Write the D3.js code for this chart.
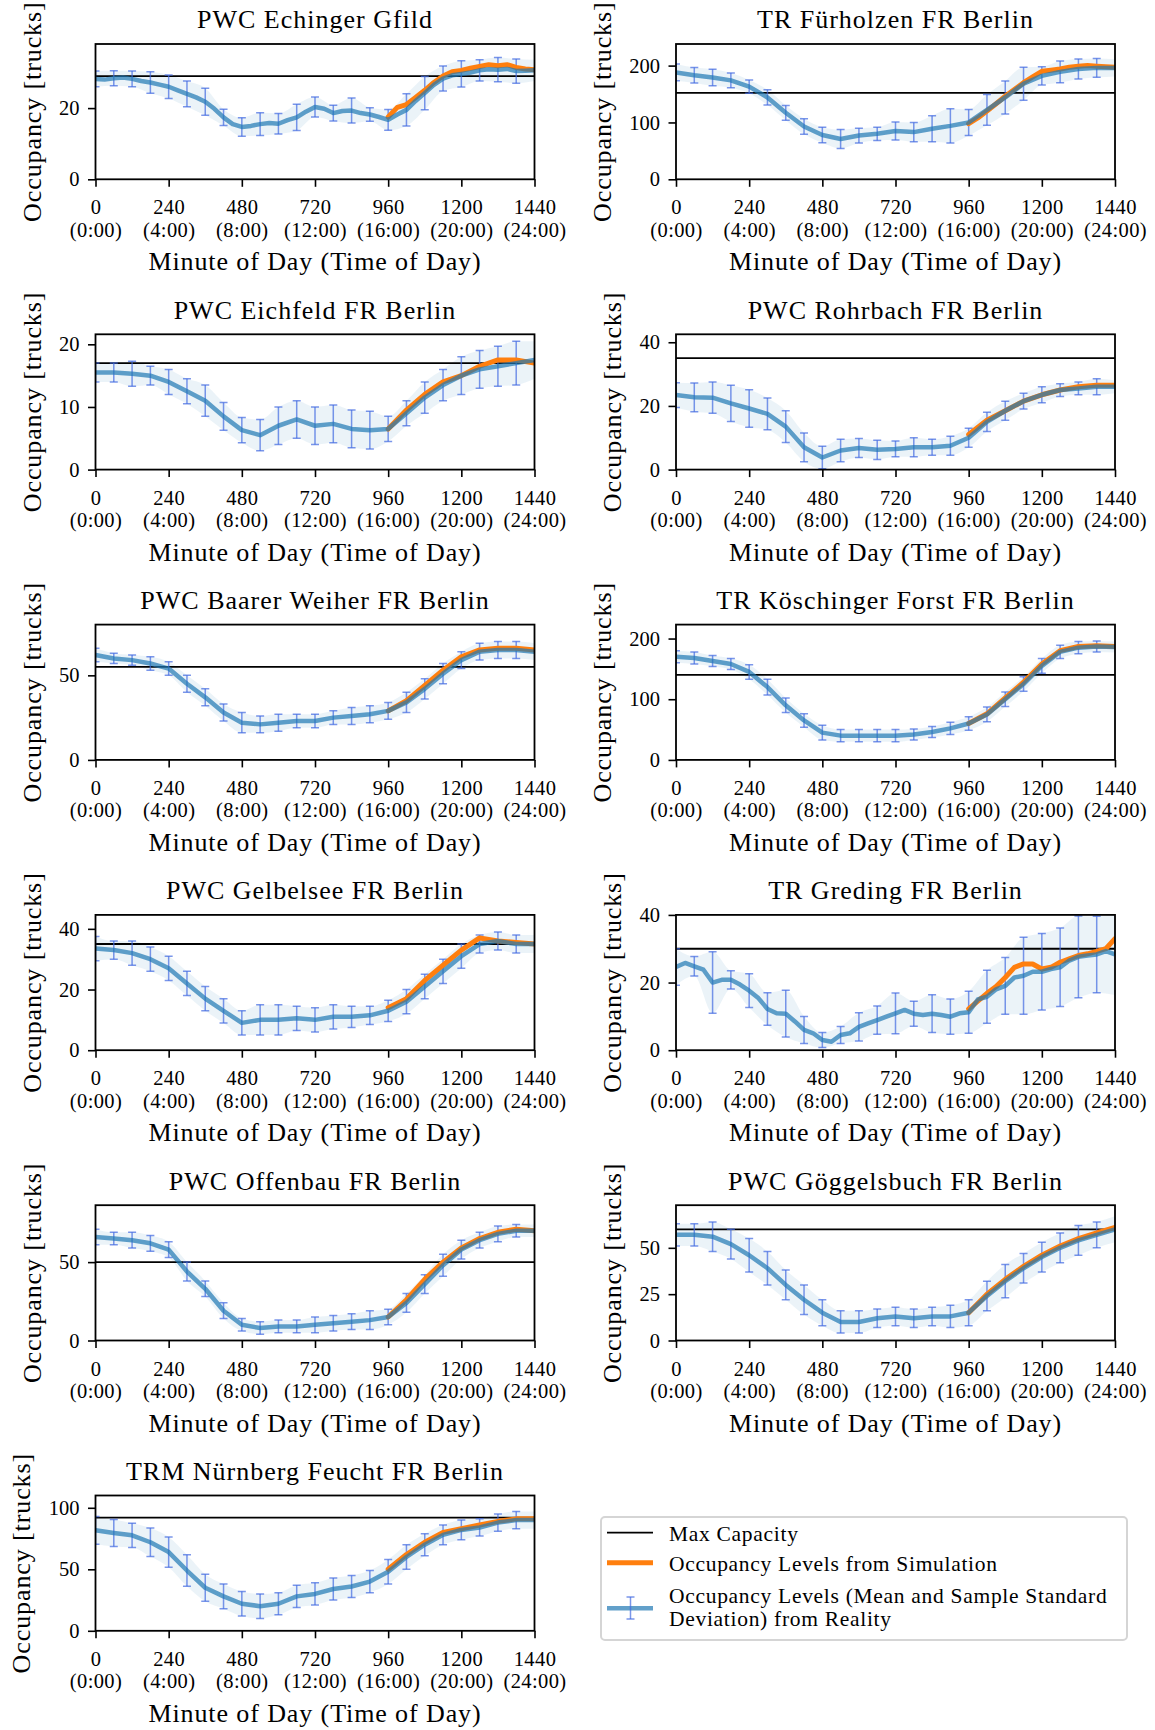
<!DOCTYPE html>
<html>
<head>
<meta charset="utf-8">
<script src="https://cdn.jsdelivr.net/npm/d3@7"></script>
<style>
  html, body { margin: 0; padding: 0; background: #fff; }
  svg { display: block; }
  text { font-family: "Liberation Serif", "DejaVu Serif", serif; fill: #000; }
</style>
</head>
<body>
<svg id="chart" width="1155" height="1730"></svg>
<script>
// ---- Parking areas (one panel each) ----
const stationNames = [
  "PWC Echinger Gfild", "TR Fürholzen FR Berlin",
  "PWC Eichfeld FR Berlin", "PWC Rohrbach FR Berlin",
  "PWC Baarer Weiher FR Berlin", "TR Köschinger Forst FR Berlin",
  "PWC Gelbelsee FR Berlin", "TR Greding FR Berlin",
  "PWC Offenbau FR Berlin", "PWC Göggelsbuch FR Berlin",
  "TRM Nürnberg Feucht FR Berlin"
];
const maxCapacity = [29, 152, 17, 35, 55, 140, 35, 30, 50, 60, 92];
const yAxisTop = [38, 238, 21.6, 42.5, 80, 223, 44.6, 40, 86.3, 73, 110];
const yTickValues = [
  [0, 20], [0, 100, 200], [0, 10, 20], [0, 20, 40], [0, 50], [0, 100, 200],
  [0, 20, 40], [0, 20, 40], [0, 50], [0, 25, 50], [0, 50, 100]
];
const xTickMinutes = [0, 240, 480, 720, 960, 1200, 1440];
const xTickClock = ["(0:00)", "(4:00)", "(8:00)", "(12:00)", "(16:00)", "(20:00)", "(24:00)"];

// ---- Observed mean occupancy (evenly spaced over 0..1440 min) ----
const meanEchinger = [28.2, 28.0, 28.4, 28.6, 28.2, 27.6, 27.2, 26.6, 26.0, 25.0, 24.0, 23.0, 21.8, 19.8, 17.4, 15.5,
  14.7, 15.0, 15.5, 15.8, 15.6, 16.6, 17.4, 19.0, 20.3, 19.8, 18.6, 19.2, 19.3, 18.6, 18.2, 17.5, 16.7, 18.2, 19.5,
  22.0, 24.2, 26.5, 28.3, 29.2, 29.6, 30.0, 30.6, 30.9, 30.8, 31.0, 30.4, 30.5, 30.6];
const meanFurholzen = [188, 183, 179, 174, 163, 144, 117, 93, 78, 71, 77, 80, 85, 83, 89, 94, 100, 122, 144, 168, 182, 189, 194, 196, 196];
const meanEichfeld = [15.5, 15.5, 15.3, 15, 14, 12.5, 11, 8.5, 6.3, 5.5, 7, 8, 7, 7.3, 6.5, 6.3, 6.5, 9, 11.5, 13.5, 15, 16, 16.5, 17, 17.5];
const meanRohrbach = [23.4, 22.7, 22.6, 20.8, 19.2, 17.5, 13.5, 7, 3.8, 6, 6.8, 6.2, 6.5, 7, 7, 7.5, 10, 15, 18.5, 21.5, 23.5, 25, 25.5, 26, 26];
const meanBaarer = [62, 60, 59, 57, 54, 45, 37, 28, 22, 21, 22, 23, 23, 25, 26, 27, 29, 34, 42, 51, 59, 64, 65, 65, 64];
const meanKoschinger = [170, 168, 163, 158, 145, 120, 90, 65, 45, 40, 40, 40, 40, 42, 46, 52, 60, 75, 100, 125, 155, 178, 185, 187, 186];
const meanGelbelsee = [33.5, 33, 32, 30, 27, 22, 17, 13, 9, 10, 10, 10.5, 10, 11, 11, 11.5, 13, 16, 21, 26, 31, 35, 36, 35, 35];
const meanGreding = [24.6, 25.8, 24.8, 23.8, 20.0, 20.8, 20.8, 19.4, 17.6, 15.4, 12.2, 10.9, 10.8, 8.5, 6.0, 5.0,
  3.0, 2.5, 4.5, 5.0, 6.9, 7.9, 8.9, 9.9, 10.9, 11.9, 10.8, 10.4, 10.8, 10.4, 9.9, 10.9, 11.2, 15.0, 15.8, 18.0,
  19.0, 21.5, 22.0, 23.2, 23.2, 24.0, 24.5, 26.5, 27.6, 28.0, 28.3, 29.3, 28.3];
const meanOffenbau = [66, 65, 64, 62, 58, 44, 33, 19, 10, 8, 9, 9, 10, 11, 12, 13, 15, 24, 36, 48, 58, 64, 68, 70, 70];
const meanGoggelsbuch = [57, 57, 56, 52, 46, 39, 30, 22, 15, 10, 10, 12, 13, 12, 13, 13, 15, 24, 32, 39, 45, 50, 54, 57, 60];
const meanNurnberg = [81.7, 79.5, 77.6, 72, 64, 49, 35, 28, 22, 20, 22, 28, 30, 34, 36, 40, 48, 60, 70, 78, 82, 84, 88, 90, 90];

// ---- Sample standard deviation, hourly at 0, 60, ..., 1440 min ----
const stdEchinger = [2.2, 2.1, 2.2, 3.0, 3.3, 3.6, 3.8, 2.3, 2.6, 3.2, 2.9, 3.7, 2.8, 2.2, 3.5, 1.9, 2.9, 4.5, 4.7, 3.5, 3.7, 3.0, 3.4, 3.4, 3.0];
const stdFurholzen = [14.6, 13.5, 14.6, 13, 11.7, 13.5, 13, 13.7, 13.7, 16.7, 13, 11.7, 16, 17, 23, 30, 23, 27, 29, 29, 16, 19, 17.5, 16.7, 15];
const stdEichfeld = [1.5, 1.5, 2, 1.5, 2, 2, 2.5, 2.2, 2, 2.5, 3, 3, 3, 3, 3, 3, 2, 2, 2.5, 2.5, 3, 3, 3.2, 3.5, 3];
const stdRohrbach = [3.9, 4.5, 4.9, 5.7, 5.9, 5, 5, 4.5, 3.5, 3.5, 3, 3, 2.5, 3, 2.5, 3, 3, 3, 3, 2.5, 2.5, 2, 2, 2.5, 2];
const stdBaarer = [4, 3, 3, 4, 4, 5, 5, 5, 6, 5, 5, 4, 4, 4, 5, 5, 5, 6, 6, 6, 5, 5, 5, 5, 5];
const stdKoschinger = [10, 10, 9, 9, 12, 13, 12, 11, 12, 10, 10, 10, 10, 9, 9, 10, 11, 12, 12, 12, 12, 11, 10, 9, 9];
const stdGelbelsee = [4, 3, 4, 4, 4, 4, 4, 4, 4, 5, 5, 4, 4, 4, 3.5, 3, 3.5, 4, 4, 4, 4, 3, 3, 3, 3];
const stdGreding = [5.4, 2.9, 9.1, 2.7, 5, 4.8, 6.9, 4, 2.2, 2.5, 4.2, 4.2, 6, 3.7, 5.6, 5.2, 6.2, 7.8, 8.4, 11.4, 11.3, 11.6, 12.1, 11.3, 12];
const stdOffenbau = [5, 4, 5, 5, 5, 6, 5, 5, 4, 4, 4, 4, 5, 5, 5, 6, 5, 6, 6, 7, 6, 5, 5, 4, 4];
const stdGoggelsbuch = [6, 6, 8, 8, 9, 9, 8, 8, 7, 6, 6, 5, 5, 5, 5, 6, 7, 8, 9, 8, 8, 8, 8, 7, 7];
const stdNurnberg = [11.3, 10.9, 9.8, 11.6, 12.3, 12.8, 11, 10, 10, 10, 9, 9, 9, 9, 9, 9, 10, 10, 9, 8, 8, 7, 7, 7, 7];

// ---- Simulated occupancy, evenly spaced over 960..1440 min ----
const simEchinger = [17.5, 20.2, 21.0, 23.0, 25.0, 27.2, 29.0, 30.2, 30.6, 31.2, 31.7, 32.2, 31.9, 32.2, 31.4, 31.0, 30.8];
const simFurholzen = [98, 108, 120, 133, 146, 158, 170, 180, 190, 192, 194, 197, 199, 200, 199, 198, 197];
const simEichfeld = [6.5, 9.5, 12, 14, 15, 16.5, 17.5, 17.5, 17];
const simRohrbach = [11, 15.5, 18.5, 21.5, 23.5, 25, 26, 26.5, 26.5];
const simBaarer = [29, 35, 44, 53, 61, 65, 66, 66, 65];
const simKoschinger = [60, 76, 102, 128, 158, 180, 187, 188, 187];
const simGelbelsee = [14, 17, 23, 28, 33, 37, 36, 35.5, 35];
const simGreding = [12.2, 14.5, 16.8, 18.8, 21.5, 24.5, 25.5, 25.5, 24, 24.5, 26, 27, 28, 28.5, 29.2, 30, 33];
const simOffenbau = [15, 26, 39, 50, 59, 65, 69, 71, 70];
const simGoggelsbuch = [15, 25, 33, 40, 46, 51, 55, 58, 61];
const simNurnberg = [50, 62, 72, 80, 83, 86, 89, 91, 91];

const meanSeries = [meanEchinger, meanFurholzen, meanEichfeld, meanRohrbach, meanBaarer, meanKoschinger,
  meanGelbelsee, meanGreding, meanOffenbau, meanGoggelsbuch, meanNurnberg];
const stdSeries = [stdEchinger, stdFurholzen, stdEichfeld, stdRohrbach, stdBaarer, stdKoschinger,
  stdGelbelsee, stdGreding, stdOffenbau, stdGoggelsbuch, stdNurnberg];
const simSeries = [simEchinger, simFurholzen, simEichfeld, simRohrbach, simBaarer, simKoschinger,
  simGelbelsee, simGreding, simOffenbau, simGoggelsbuch, simNurnberg];

// ---- Layout ----
const colLeft = [95.5, 676];
const plotW = 439;
const plotH = 135.3;
const rowTop = 44;
const rowStep = 290.3;

const C_REAL = "#1f77b4";
const C_SIM = "#ff7f0e";
const C_ERR = "#4169e1";
const FONT_TICK = 20.5;
const FONT_LABEL = 26;

const svg = d3.select("#chart");
svg.append("rect").attr("width", 1155).attr("height", 1730).attr("fill", "#fff");

// Pair each value with its minute on an even grid.
function onGrid(values, start, end) {
  const n = values.length;
  return values.map((v, i) => ({ t: start + (end - start) * i / (n - 1), v }));
}

stationNames.forEach((name, i) => {
  const col = i % 2, row = Math.floor(i / 2);
  const x0 = colLeft[col], y0 = rowTop + row * rowStep;
  const x = d3.scaleLinear().domain([0, 1440]).range([x0, x0 + plotW]);
  const y = d3.scaleLinear().domain([0, yAxisTop[i]]).range([y0 + plotH, y0]);

  const g = svg.append("g");
  const clipId = "clip" + i;
  g.append("clipPath").attr("id", clipId)
    .append("rect").attr("x", x0).attr("y", y0).attr("width", plotW).attr("height", plotH);

  const plot = g.append("g").attr("clip-path", `url(#${clipId})`);

  const mean = onGrid(meanSeries[i], 0, 1440);
  const sim = onGrid(simSeries[i], 960, 1440);
  const step = (meanSeries[i].length - 1) / 24;
  const hourly = stdSeries[i].map((s, k) => ({ t: k * 60, m: meanSeries[i][k * step], s }));

  // mean ± std band
  plot.append("path")
    .datum(hourly)
    .attr("fill", C_REAL).attr("fill-opacity", 0.09)
    .attr("d", d3.area().curve(d3.curveMonotoneX)
      .x(d => x(d.t)).y0(d => y(d.m - d.s)).y1(d => y(d.m + d.s)));

  // capacity
  plot.append("line")
    .attr("x1", x0).attr("x2", x0 + plotW)
    .attr("y1", y(maxCapacity[i])).attr("y2", y(maxCapacity[i]))
    .attr("stroke", "#000").attr("stroke-width", 1.8);

  // error bars every hour
  const bars = plot.append("g").attr("stroke", C_ERR).attr("stroke-opacity", 0.7).attr("stroke-width", 1.5);
  hourly.filter(d => d.t < 1440).forEach(d => {
    const xx = x(d.t), ya = y(d.m - d.s), yb = y(d.m + d.s);
    bars.append("line").attr("x1", xx).attr("x2", xx).attr("y1", ya).attr("y2", yb);
    bars.append("line").attr("x1", xx - 4).attr("x2", xx + 4).attr("y1", ya).attr("y2", ya);
    bars.append("line").attr("x1", xx - 4).attr("x2", xx + 4).attr("y1", yb).attr("y2", yb);
  });

  // simulation
  plot.append("path").datum(sim)
    .attr("fill", "none").attr("stroke", C_SIM).attr("stroke-width", 5)
    .attr("stroke-linejoin", "round").attr("stroke-linecap", "round")
    .attr("d", d3.line().x(d => x(d.t)).y(d => y(d.v)));

  // observed mean
  plot.append("path").datum(mean)
    .attr("fill", "none").attr("stroke", C_REAL).attr("stroke-opacity", 0.7).attr("stroke-width", 4.5)
    .attr("stroke-linejoin", "round")
    .attr("d", d3.line().x(d => x(d.t)).y(d => y(d.v)));

  // y axis
  const yAxis = g.append("g").attr("transform", `translate(${x0},0)`)
    .call(d3.axisLeft(y).tickValues(yTickValues[i]).tickSize(7.5).tickPadding(8.5).tickFormat(d3.format("d")));
  yAxis.select(".domain").remove();
  yAxis.selectAll(".tick line").attr("stroke", "#000").attr("stroke-width", 1.6);
  yAxis.selectAll(".tick text").attr("font-size", FONT_TICK).attr("font-family", null).attr("fill", "#000");

  // x axis with minute and clock time
  const xAxis = g.append("g").attr("transform", `translate(0,${y0 + plotH})`)
    .call(d3.axisBottom(x).tickValues(xTickMinutes).tickSize(7.5).tickFormat(""));
  xAxis.select(".domain").remove();
  xAxis.selectAll(".tick line").attr("stroke", "#000").attr("stroke-width", 1.6);
  xAxis.selectAll(".tick text").each(function (d, k) {
    const t = d3.select(this).attr("y", null).attr("dy", null)
      .attr("font-size", FONT_TICK).attr("font-family", null).attr("fill", "#000")
      .attr("letter-spacing", 0.4);
    t.append("tspan").attr("x", 0).attr("y", 35).text(d);
    t.append("tspan").attr("x", 0).attr("y", 57.6).text(xTickClock[k]);
  });

  // frame
  g.append("rect").attr("x", x0).attr("y", y0).attr("width", plotW).attr("height", plotH)
    .attr("fill", "none").attr("stroke", "#000").attr("stroke-width", 1.8);

  // title and axis labels
  g.append("text").attr("x", x0 + plotW / 2).attr("y", y0 - 15.6)
    .attr("text-anchor", "middle").attr("font-size", FONT_LABEL).attr("letter-spacing", 1)
    .text(name);
  g.append("text").attr("x", x0 + plotW / 2).attr("y", y0 + plotH + 91)
    .attr("text-anchor", "middle").attr("font-size", FONT_LABEL).attr("letter-spacing", 0.9)
    .text("Minute of Day (Time of Day)");

  let tickLeft = x0;
  yAxis.selectAll(".tick text").each(function () {
    const b = this.getBBox();
    const ctm = this.getCTM();
    tickLeft = Math.min(tickLeft, b.x + ctm.e);
  });
  const lx = tickLeft - 8 - 10.5;
  g.append("text")
    .attr("transform", `translate(${lx},${y0 + plotH / 2}) rotate(-90)`)
    .attr("text-anchor", "middle").attr("font-size", FONT_LABEL).attr("letter-spacing", 0.9)
    .text("Occupancy [trucks]");
});

// ---- Legend ----
const lg = svg.append("g");
lg.append("rect").attr("x", 601).attr("y", 1517).attr("width", 526).attr("height", 123)
  .attr("rx", 4).attr("fill", "#fff").attr("stroke", "#d5d5d5").attr("stroke-width", 2);
lg.append("line").attr("x1", 607).attr("x2", 653).attr("y1", 1532.7).attr("y2", 1532.7)
  .attr("stroke", "#000").attr("stroke-width", 1.8);
lg.append("line").attr("x1", 607).attr("x2", 653).attr("y1", 1562.7).attr("y2", 1562.7)
  .attr("stroke", C_SIM).attr("stroke-width", 5);
lg.append("line").attr("x1", 607).attr("x2", 653).attr("y1", 1608.3).attr("y2", 1608.3)
  .attr("stroke", C_REAL).attr("stroke-opacity", 0.7).attr("stroke-width", 4.5);
const lgErr = lg.append("g").attr("stroke", C_ERR).attr("stroke-opacity", 0.7).attr("stroke-width", 1.5);
lgErr.append("line").attr("x1", 630.5).attr("x2", 630.5).attr("y1", 1597).attr("y2", 1619);
lgErr.append("line").attr("x1", 626.5).attr("x2", 634.5).attr("y1", 1597).attr("y2", 1597);
lgErr.append("line").attr("x1", 626.5).attr("x2", 634.5).attr("y1", 1619).attr("y2", 1619);

const legendLines = [
  ["Max Capacity", 1540.7],
  ["Occupancy Levels from Simulation", 1570.7],
  ["Occupancy Levels (Mean and Sample Standard", 1602.7],
  ["Deviation) from Reality", 1626]
];
legendLines.forEach(([txt, yy]) => {
  lg.append("text").attr("x", 669).attr("y", yy)
    .attr("font-size", 21.5).attr("letter-spacing", 0.7).text(txt);
});
</script>
</body>
</html>
